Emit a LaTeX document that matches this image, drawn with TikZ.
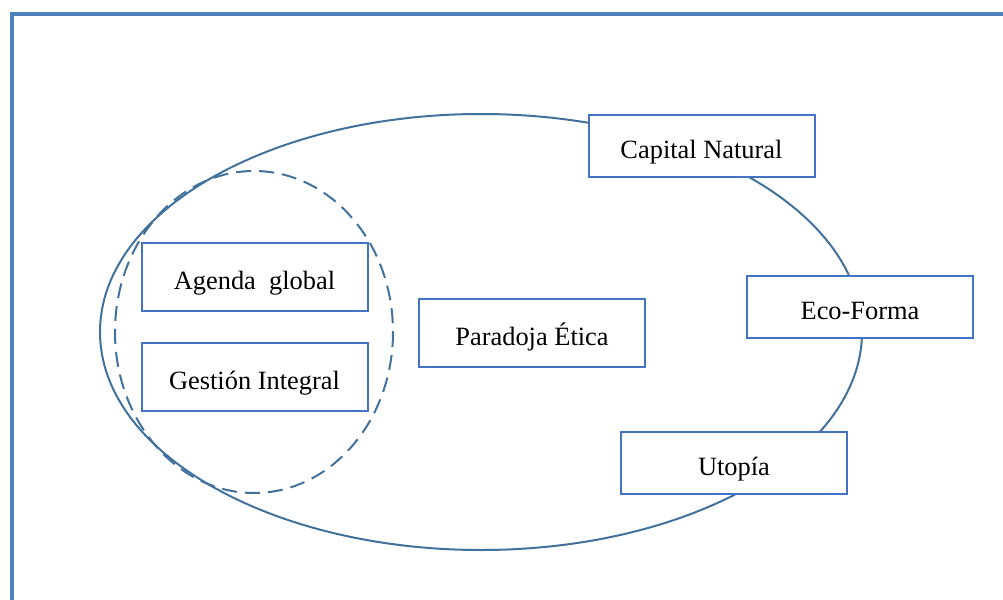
\documentclass[tikz,border=0pt]{standalone}
\usepackage{fontspec}
\setmainfont{Liberation Serif}
\usepackage{xcolor}
\usetikzlibrary{positioning}
\definecolor{framecol}{HTML}{4F81BD}
\definecolor{boxcol}{HTML}{4472C4}
\definecolor{ringcol}{HTML}{41719C}

\begin{document}
\begin{tikzpicture}[x=0.5pt, y=-0.5pt,
  box/.style={draw=boxcol, line width=1pt, fill=white, align=center,
              minimum width=113pt, minimum height=34pt, inner sep=0pt,
              text height=14pt, text depth=2pt,
              font=\fontsize{13.2}{15}\selectfont},
  flat/.style={box, minimum height=31pt},
  ring/.style={draw=ringcol, line width=1pt},
  frame/.style={draw=framecol, line width=1.6pt}]
\useasboundingbox (0,0) rectangle (1003,600);
\draw[frame] (12,600) -- (12,14) -- (1003,14);
% outer ellipse and dashed circle
\draw[ring] (481,332) ellipse [x radius=381, y radius=218];
\draw[ring, dash pattern=on 7.5pt off 4pt] (254,332)
  ellipse [x radius=139, y radius=161];
\node[flat] (capital) at (701.5,146) {Capital Natural};
\node[box] (agenda) at (254.5,277) {Agenda\ \ global};
\node[box, below=15pt of agenda] (gestion) {Gestión Integral};
\node[box] (paradoja) at (532,333) {Paradoja Ética};
\node[flat] (ecoforma) at (860,307) {Eco-Forma};
\node[flat] (utopia) at (734,463) {Utopía};
\end{tikzpicture}
\end{document}
